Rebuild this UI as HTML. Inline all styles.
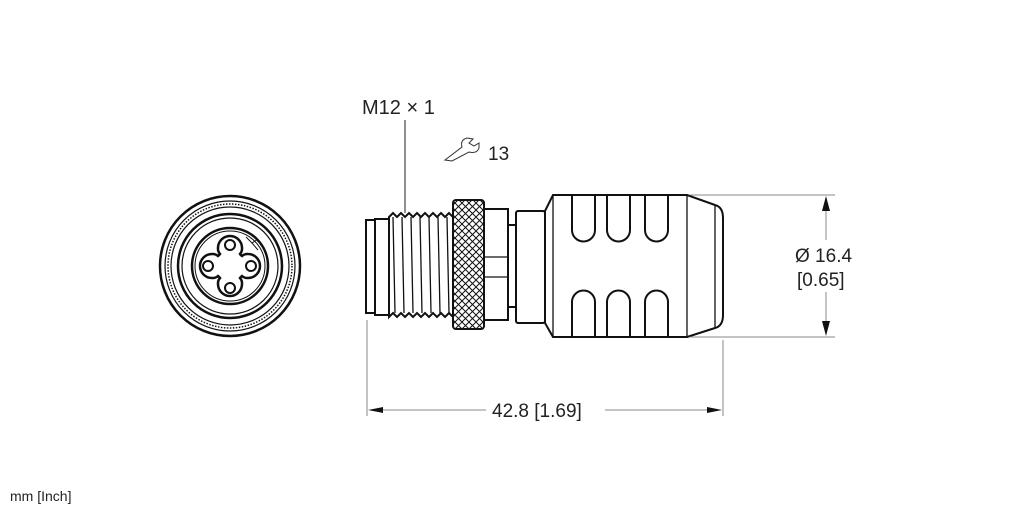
<!DOCTYPE html>
<html><head><meta charset="utf-8"><style>
html,body{margin:0;padding:0;background:#fff;}
svg{display:block;}
text{font-family:"Liberation Sans",sans-serif;fill:#222;}
</style></head><body>
<svg width="1022" height="511" viewBox="0 0 1022 511" xmlns="http://www.w3.org/2000/svg">
<defs>
<pattern id="kn" width="7" height="7" patternUnits="userSpaceOnUse">
<path d="M0 0L7 7M7 0L0 7" stroke="#111" stroke-width="1"/>
</pattern>
</defs>
<!-- front view -->
<g fill="none" stroke="#111">
<circle cx="230" cy="266" r="70" stroke-width="2.5"/>
<circle cx="230" cy="266" r="65" stroke-width="1.2"/>
<circle cx="230" cy="266" r="62" stroke-width="1.5" stroke-dasharray="1.5 1.5"/>
<circle cx="230" cy="266" r="59" stroke-width="1.2"/>
<circle cx="230" cy="266" r="52" stroke-width="2.5"/>
<circle cx="230" cy="266" r="48" stroke-width="1.2"/>
<circle cx="230" cy="266" r="38" stroke-width="2.5"/>
<circle cx="230" cy="266" r="35" stroke-width="1"/>
<path d="M220 254 A8 8 0 0 1 218 248 A12 12 0 0 1 242 248 A8 8 0 0 1 240 254 A8 8 0 0 0 242 256 A8 8 0 0 1 248 254 A12 12 0 0 1 248 278 A8 8 0 0 1 242 276 A8 8 0 0 0 240 278 A8 8 0 0 1 242 284 A12 12 0 0 1 218 284 A8 8 0 0 1 220 278 A8 8 0 0 0 218 276 A8 8 0 0 1 212 278 A12 12 0 0 1 212 254 A8 8 0 0 1 218 256 A8 8 0 0 0 220 254 Z" stroke-width="2.5"/>
<circle cx="230" cy="245" r="5" stroke-width="2"/>
<circle cx="230" cy="288" r="5" stroke-width="2"/>
<circle cx="208" cy="266" r="5" stroke-width="2"/>
<circle cx="251" cy="266" r="5" stroke-width="2"/>
<path d="M246 237 L252 243 L258 239 M252 243 L258 250" stroke-width="1"/>
</g>
<!-- side view -->
<g fill="none" stroke="#111" stroke-width="2">
<rect x="366" y="220" width="9" height="93" fill="#fff"/>
<rect x="375" y="219" width="14" height="96" fill="#fff"/>
<path d="M389 217 L393 213 L397 217 L401 213 L405 217 L409 213 L413 217 L417 213 L421 217 L425 213 L429 217 L433 213 L437 217 L441 213 L445 217 L449 213 L453 217 L453 317 L449 313 L445 317 L441 313 L437 317 L433 313 L429 317 L425 313 L421 317 L417 313 L413 317 L409 313 L405 317 L401 313 L397 317 L393 313 L389 317 Z"/>
<g stroke-width="1.3">
<path d="M393 217L395 313M402 217L404 313M411 217L413 313M420 217L422 313M429 217L431 313M438 217L440 313M447 217L449 313"/>
</g>
<rect x="453" y="200" width="31" height="129" rx="3" fill="url(#kn)"/>
<rect x="484" y="209" width="24" height="111"/>
<path d="M484 257 H508 M484 277 H508" stroke-width="1.2"/>
<rect x="508" y="225" width="8" height="82"/>
<rect x="516" y="211" width="29" height="112" rx="2"/>
<path d="M545 211 L553 195 H687 L715 205 Q723 207 723 218 V315 Q723 326 715 328 L687 337 H553 L545 323 Z"/>
<path d="M553 195 V337 M687 195 V337 M715 205 V328" stroke-width="1.3"/>
<path d="M572 195 V230 A11.5 11.5 0 0 0 595 230 V195 M607 195 V230 A11.5 11.5 0 0 0 630 230 V195 M645 195 V230 A11.5 11.5 0 0 0 668 230 V195"/>
<path d="M572 337 V302 A11.5 11.5 0 0 1 595 302 V337 M607 337 V302 A11.5 11.5 0 0 1 630 302 V337 M645 337 V302 A11.5 11.5 0 0 1 668 302 V337"/>
</g>
<!-- dimensions -->
<g stroke="#888" stroke-width="1" fill="none">
<path d="M690 195 H835 M690 337 H835"/>
<path d="M826 200 V240 M826 292 V332"/>
<path d="M367 320 V416 M723 340 V416"/>
<path d="M372 410 H486 M605 410 H718"/>
</g>
<g stroke="#222" stroke-width="1"><path d="M405 120 V213"/></g>
<g fill="#111">
<path d="M826 196 L822 211 L830 211Z"/>
<path d="M826 336 L822 321 L830 321Z"/>
<path d="M368 410 L383 407 L383 413Z"/>
<path d="M722 410 L707 407 L707 413Z"/>
</g>
<path d="M445 160 L462 147 Q460 140 467 138 L473 139 L469 143 L474 146 L479 143 L479 148 Q477 154 469 152 L452 161 Z" fill="none" stroke="#333" stroke-width="1"/>
<text x="362" y="114" font-size="20">M12 × 1</text>
<text x="488" y="160" font-size="19">13</text>
<text x="795" y="262" font-size="19">Ø 16.4</text>
<text x="797" y="286" font-size="19">[0.65]</text>
<text x="492" y="417" font-size="19">42.8 [1.69]</text>
<text x="10" y="501" font-size="14">mm [Inch]</text>
</svg>
</body></html>
